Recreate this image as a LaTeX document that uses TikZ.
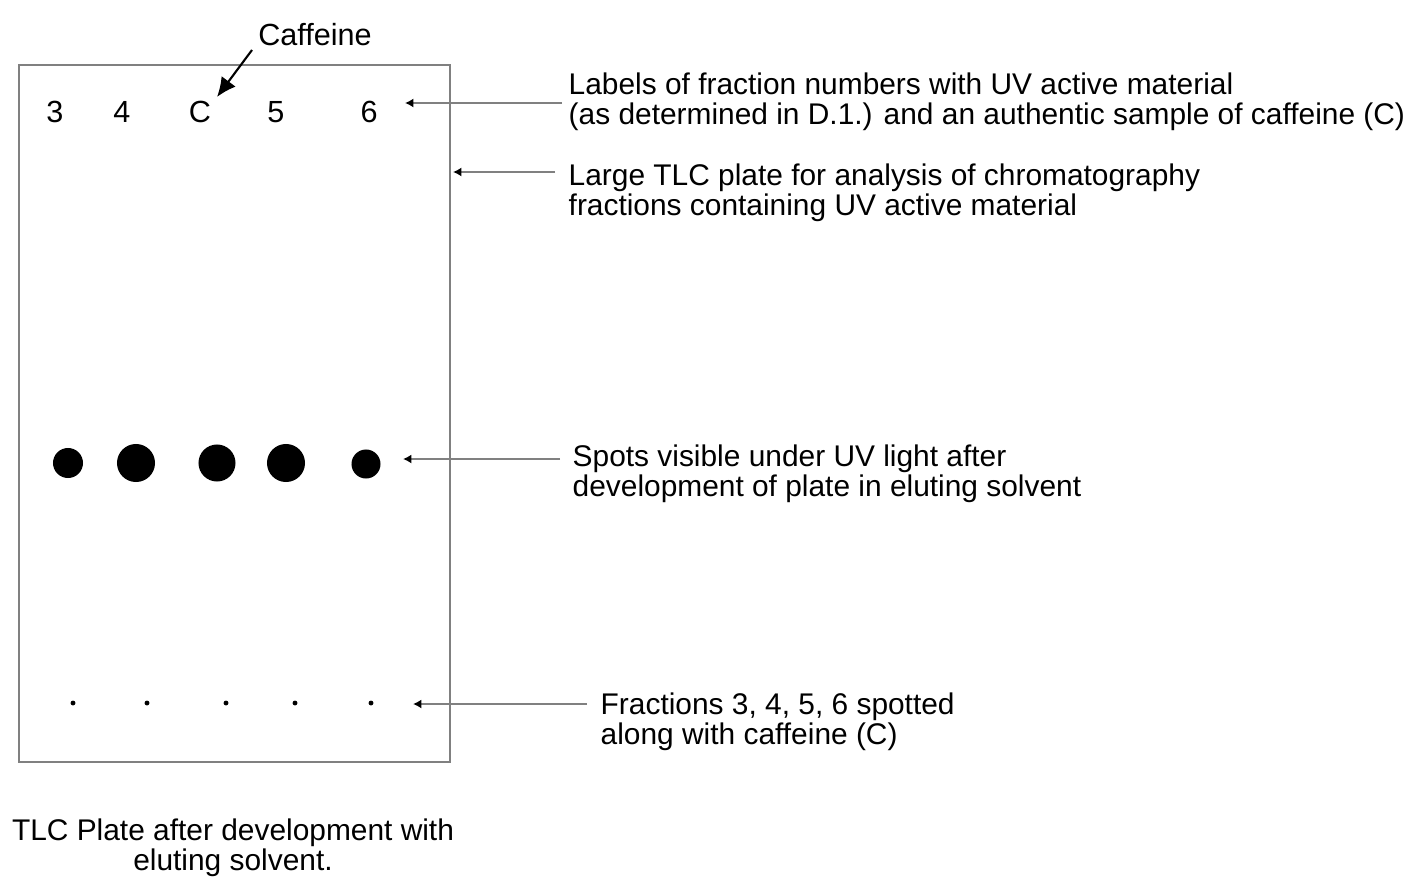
\documentclass[tikz,border=0pt]{standalone}
\usepackage{fontspec}
\setmainfont{Liberation Sans}
\usetikzlibrary{arrows.meta,positioning}
\tikzset{
	platestyle/.style={
		x=0.01cm, y=-0.01cm,
		line join=miter},
	plate/.style={draw=black!50, line width=0.7pt},
	lane/.style={font=\fontsize{8.7}{9}\selectfont, inner sep=0pt},
	note/.style={font=\fontsize{8.5}{8.7}\selectfont, align=left, inner sep=0pt, anchor=north west},
	spot/.style={circle, fill=black, inner sep=0pt, minimum size=#1},
	dab/.style={circle, fill=black, inner sep=0pt, minimum size=1.4pt},
	pointer/.style={draw=black!50, line width=0.7pt, -{Latex[black, length=2.4pt, width=2.6pt]}},
	caffarrow/.style={draw=black, line width=0.6pt, -{Latex[length=5.5pt, width=5pt]}}}

\begin{document}
\begin{tikzpicture}[platestyle]
	\useasboundingbox (0,0) rectangle (1410,876);
	
	% plate
	\draw[plate] (19,65) rectangle (450,762);
	
	% lane labels
	\node[lane] (n3) at (55,112) {3};
	\node[lane] (n4) at (122,112) {4};
	\node[lane] (nc) at (200,112) {C};
	\node[lane] (n5) at (276,112) {5};
	\node[lane] (n6) at (369,112) {6};
	\node[lane] (caff) at (315,35) {Caffeine};
	
	% developed spots
	\node[spot=0.30cm] (s3) at (68,463) {};
	\node[spot=0.38cm] (s4) at (136,463) {};
	\node[spot=0.37cm] (sc) at (217,463) {};
	\node[spot=0.38cm] (s5) at (286,463) {};
	\node[spot=0.29cm] (s6) at (366,464) {};
	
	% origin
	\node[dab] (o3) at (73,703) {};
	\node[dab] (o4) at (147,703) {};
	\node[dab] (oc) at (226,703) {};
	\node[dab] (o5) at (295,703) {};
	\node[dab] (o6) at (371,703) {};
	
	% notes
	\node[note] (lab1) at (568,72) {Labels of fraction numbers with UV active material\\(as determined in D.1.) and an authentic sample of caffeine (C)};
	\node[note] (lab2) at (568,163) {Large TLC plate for analysis of chromatography\\fractions containing UV active material};
	\node[note] (lab3) at (572,444) {Spots visible under UV light after\\development of plate in eluting solvent};
	\node[note] (lab4) at (600,692) {Fractions 3, 4, 5, 6 spotted\\along with caffeine (C)};
	\node[note, anchor=north, align=center] (capt) at (233,818) {TLC Plate after development with\\eluting solvent.};
	
	% arrows
	\coordinate (caffstart) at (252,50);
	\coordinate (tipc) at (217,97);
	\coordinate (tip1) at (405,103);
	\coordinate (tip2) at (453,172);
	\coordinate (tip3) at (403,459);
	\coordinate (tip4) at (413,704);
	\draw[caffarrow] (caffstart) -- (tipc);
	\draw[pointer] (tip1 -| lab1.west) ++(-6,0) -- (tip1);
	\draw[pointer] (tip2 -| lab2.west) ++(-13,0) -- (tip2);
	\draw[pointer] (tip3 -| lab3.west) ++(-12,0) -- (tip3);
	\draw[pointer] (tip4 -| lab4.west) ++(-13,0) -- (tip4);
	
\end{tikzpicture}
\end{document}
